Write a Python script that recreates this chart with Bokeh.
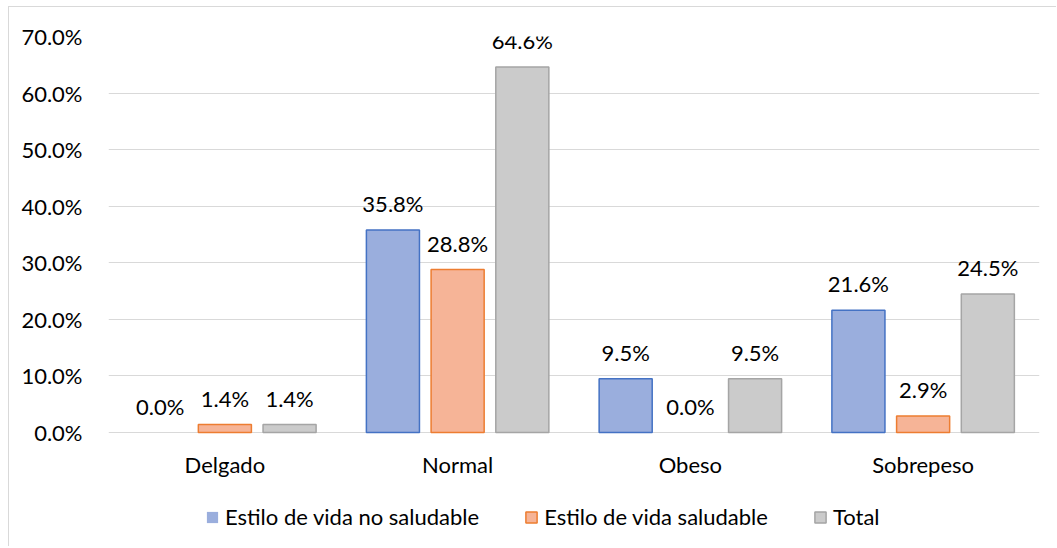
from bokeh.plotting import figure
from bokeh.models import ColumnDataSource, FactorRange, LabelSet, Legend, LegendItem
from bokeh.core.properties import value
from bokeh.transform import dodge
from bokeh.embed import file_html
from bokeh.resources import INLINE

categories = ["Delgado", "Normal", "Obeso", "Sobrepeso"]
no_saludable = [0.0, 35.8, 9.5, 21.6]
saludable = [1.4, 28.8, 0.0, 2.9]
total = [1.4, 64.6, 9.5, 24.5]
series_names = ["Estilo de vida no saludable", "Estilo de vida saludable", "Total"]
y_ticks = [0, 10, 20, 30, 40, 50, 60, 70]

FONT = "Lato"
FS = "22px"
src = ColumnDataSource(dict(
    cat=categories, a=no_saludable, b=saludable, c=total,
    la=[f"{v:.1f}%" for v in no_saludable],
    lb=[f"{v:.1f}%" for v in saludable],
    lc=[f"{v:.1f}%" for v in total],
    aa=[0.0 if v == 0 else 1.0 for v in no_saludable],
    ab=[0.0 if v == 0 else 1.0 for v in saludable],
    ac=[0.0 if v == 0 else 1.0 for v in total],
    zero=[0.0] * len(categories),
))

W, H = 1048, 540
TOP, LEFT, RIGHT = 29, 99, 18
frame_h = H - TOP
px_per_unit = 396 / 70.0
y_min = -(frame_h - 396) / px_per_unit

p = figure(x_range=FactorRange(*categories, range_padding=0), y_range=(y_min, 70),
           width=W, height=H, output_backend="svg", toolbar_location=None,
           min_border_left=LEFT, min_border_right=RIGHT, min_border_top=TOP, min_border_bottom=0)
p.styles = {"margin-left": "9px", "margin-top": "7px", "box-shadow": "-1px -1px 0 0 #D9D9D9"}
p.outline_line_color = None
p.xaxis.visible = False
p.xgrid.grid_line_color = None
p.ygrid.grid_line_color = "#D9D9D9"
p.ygrid.grid_line_width = 1
p.ygrid.ticker = y_ticks
p.yaxis.ticker = y_ticks
p.yaxis.major_label_overrides = {t: f"{t:.1f}%" for t in y_ticks}
ax = p.yaxis[0]
ax.axis_line_color = None
ax.major_tick_line_color = None
ax.minor_tick_line_color = None
ax.major_label_text_font = FONT
ax.major_label_text_font_size = FS
ax.major_label_text_color = "#000000"
ax.major_label_standoff = 20

off = 0.278
w = 0.228
specs = [("a", "la", "aa", -off, "#9AAEDD", "#4472C4"),
         ("b", "lb", "ab", 0.0, "#F6B497", "#ED7D31"),
         ("c", "lc", "ac", off, "#CBCBCB", "#A5A5A5")]
items = []
for (col, lab, alp, dx, fill, line), name in zip(specs, series_names):
    r = p.vbar(x=dodge("cat", dx, range=p.x_range), top=col, width=w, source=src,
               fill_color=fill, line_color=line, line_width=1.5, line_alpha=alp)
    items.append(LegendItem(label=name, renderers=[r]))
    ls = LabelSet(x=dodge("cat", dx, range=p.x_range), y=col, text=lab, source=src,
                  text_align="center", text_baseline="alphabetic", y_offset=18,
                  text_font=value(FONT), text_font_size=value(FS), text_color="#000000")
    p.add_layout(ls)

cat_labels = LabelSet(x="cat", y="zero", text="cat", source=src,
                      text_align="center", text_baseline="alphabetic", y_offset=-40,
                      text_font=value(FONT), text_font_size=value(FS), text_color="#000000")
p.add_layout(cat_labels)

legend = Legend(items=items, orientation="horizontal", location=(97, 17),
                glyph_width=14, glyph_height=14, label_standoff=6, spacing=45,
                padding=0, margin=0, border_line_color=None, background_fill_alpha=0,
                label_text_font=FONT, label_text_font_size=FS, label_text_color="#000000")
p.add_layout(legend, "center")

open("out.html", "w").write(file_html(p, INLINE))
